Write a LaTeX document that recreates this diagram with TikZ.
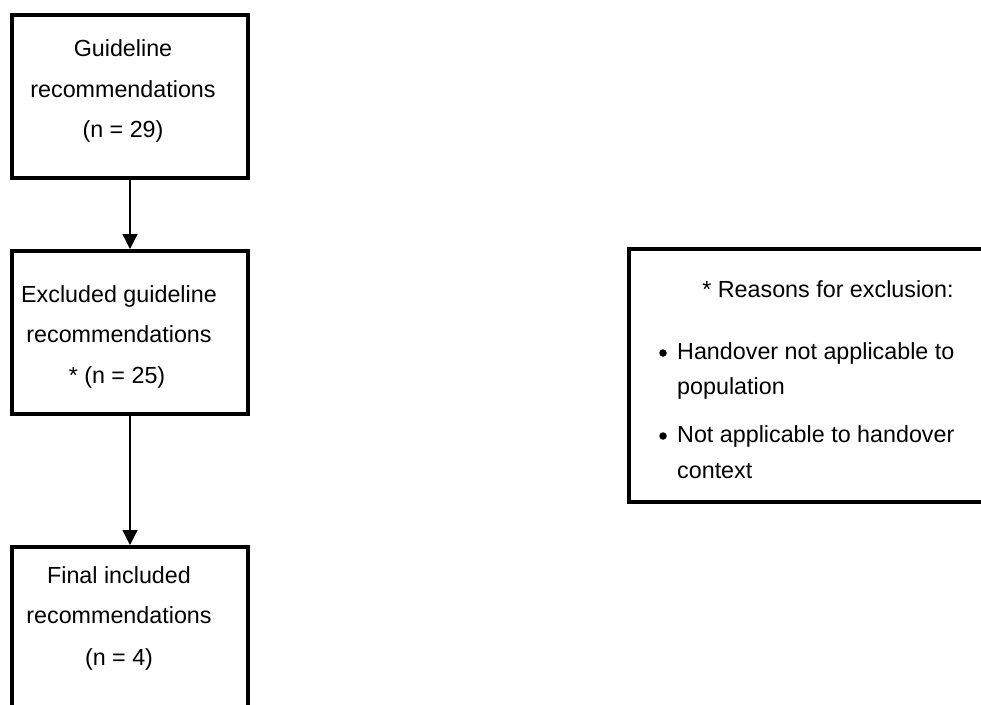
\documentclass[tikz,border=0pt]{standalone}
\usepackage{fontspec}
\setmainfont{Liberation Sans}
\usetikzlibrary{arrows.meta}

\tikzset{
  box/.style={draw=black, line width=4pt, rectangle, inner sep=0pt, anchor=north west},
  txt/.style={inner sep=0pt, anchor=base, font=\fontsize{23.3}{28}\selectfont},
  ltxt/.style={inner sep=0pt, anchor=base west, font=\fontsize{23.3}{28}\selectfont},
  flow/.style={draw=black, line width=1.3pt, -{Triangle[width=15pt,length=15pt]}},
  dot/.style={circle, fill=black, inner sep=0pt, minimum size=7.5pt}
}

\begin{document}
\begin{tikzpicture}[x=1pt, y=-1pt]
  \path[use as bounding box] (0,0) rectangle (981,704);
  \clip (0,0) rectangle (981,704);

  % flow boxes
  \node[box, minimum width=236pt, minimum height=163pt] (b1) at (10,13) {};
  \node[box, minimum width=236pt, minimum height=163pt] (b2) at (10,249) {};
  \node[box, minimum width=236pt, minimum height=200pt] (b3) at (10,545) {};

  % reasons box, running past the right edge
  \node[box, minimum width=380pt, minimum height=253pt] (rb) at (627,247) {};

  % box texts
  \node[txt] (t11) at (123,56) {Guideline};
  \node[txt] (t12) at (123,97) {recommendations};
  \node[txt] (t13) at (123,137) {(n = 29)};

  \node[txt] (t21) at (119,302) {Excluded guideline};
  \node[txt] (t22) at (119,342) {recommendations};
  \node[txt] (t23) at (117,383) {* (n = 25)};

  \node[txt] (t31) at (119,583) {Final included};
  \node[txt] (t32) at (119,623) {recommendations};
  \node[txt] (t33) at (119,665) {(n = 4)};

  \node[txt] (r0) at (828,297) {* Reasons for exclusion:};
  \node[dot] (d1) at (663,353) {};
  \node[ltxt] (r1) at (677,359) {Handover not applicable to};
  \node[ltxt] (r2) at (677,394) {population};
  \node[dot] (d2) at (663,436) {};
  \node[ltxt] (r3) at (677,442) {Not applicable to handover};
  \node[ltxt] (r4) at (677,478) {context};

  % connectors
  \draw[flow] (b1.south) -- (b2.north);
  \draw[flow] (b2.south) -- (b3.north);
\end{tikzpicture}
\end{document}
